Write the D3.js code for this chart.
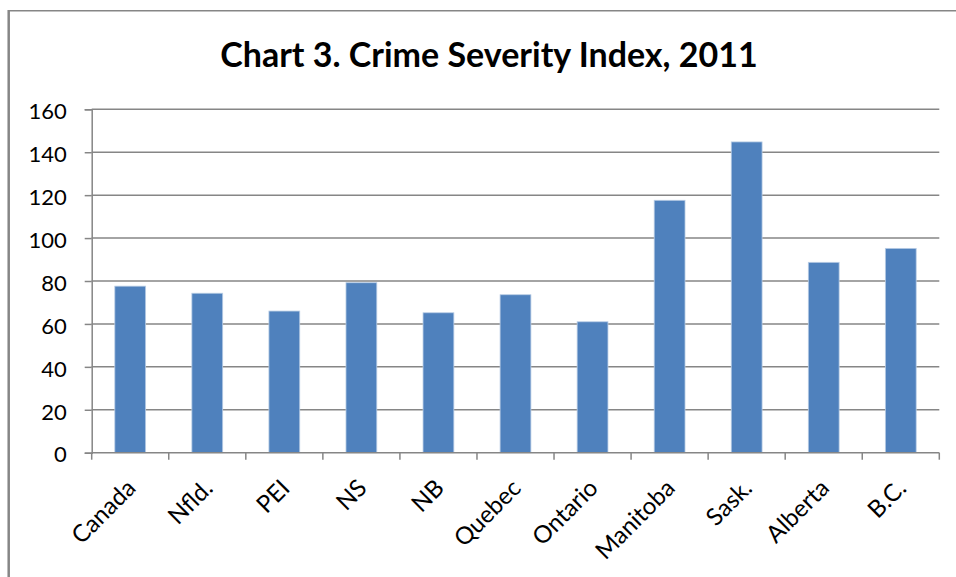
<!DOCTYPE html>
<html>
<head>
<meta charset="utf-8">
<script src="https://cdn.jsdelivr.net/npm/d3@7"></script>
<style>
  html, body { margin: 0; padding: 0; background: #fff; }
  svg { display: block; }
  text { font-family: Lato, "Open Sans", sans-serif; fill: #000; }
</style>
</head>
<body>
<svg id="chart" width="956" height="577"></svg>
<script>
// Crime Severity Index by province, 2011
const titleText = "Chart 3. Crime Severity Index, 2011";
const regions = ["Canada", "Nfld.", "PEI", "NS", "NB", "Quebec", "Ontario", "Manitoba", "Sask.", "Alberta", "B.C."];
const csiValues = [77.6, 74.3, 66.0, 79.2, 65.2, 73.6, 61.0, 117.6, 144.8, 88.7, 95.2];
const yTicks = [0, 20, 40, 60, 80, 100, 120, 140, 160];

const svg = d3.select("#chart");
const W = 956, H = 577;
const margin = { left: 91.7, right: W - 939.3, top: 109.3, bottom: H - 452.7 };

// outer chart frame (runs off the right and bottom edges)
svg.append("line")
  .attr("x1", 8.7).attr("x2", W).attr("y1", 10.7).attr("y2", 10.7)
  .attr("stroke", "#868686").attr("stroke-width", 1.4);
svg.append("line")
  .attr("x1", 8.7).attr("x2", 8.7).attr("y1", 10).attr("y2", H)
  .attr("stroke", "#868686").attr("stroke-width", 2.5);

const x = d3.scaleBand()
  .domain(regions)
  .range([margin.left, W - margin.right])
  .paddingInner(0.6).paddingOuter(0.3);

const y = d3.scaleLinear()
  .domain([0, 160])
  .range([H - margin.bottom, margin.top]);

// gridlines
svg.append("g")
  .selectAll("line")
  .data(yTicks.filter(d => d > 0))
  .join("line")
  .attr("x1", margin.left).attr("x2", W - margin.right)
  .attr("y1", d => y(d)).attr("y2", d => y(d))
  .attr("stroke", "#868686").attr("stroke-width", 1.5);

// bars
svg.append("g")
  .selectAll("rect")
  .data(regions.map((r, i) => ({ r, v: csiValues[i] })))
  .join("rect")
  .attr("x", d => x(d.r))
  .attr("width", x.bandwidth())
  .attr("y", d => y(d.v))
  .attr("height", d => y(0) - y(d.v))
  .attr("fill", "#4f81bd")
  .attr("stroke", "#b9cde5")
  .attr("stroke-width", 0.8);

// y axis
const yAxis = svg.append("g")
  .attr("transform", `translate(${margin.left},0)`)
  .call(d3.axisLeft(y).tickValues(yTicks).tickSize(7).tickPadding(18).tickFormat(d3.format("d")));
yAxis.select(".domain").attr("stroke", "#868686").attr("stroke-width", 1.5);
yAxis.selectAll(".tick line").attr("stroke", "#868686").attr("stroke-width", 1.5);
yAxis.selectAll("text")
  .attr("font-size", 22)
  .attr("dy", "0.42em")
  .attr("font-family", "Lato, 'Open Sans', sans-serif")
  .attr("fill", "#000");

// x axis: ticks sit on category boundaries
const step = x.step();
const boundaries = d3.range(regions.length + 1).map(i => margin.left + i * step);
const xg = svg.append("g");
xg.append("line")
  .attr("x1", margin.left).attr("x2", W - margin.right)
  .attr("y1", y(0)).attr("y2", y(0))
  .attr("stroke", "#868686").attr("stroke-width", 1.5);
xg.selectAll("line.tk")
  .data(boundaries)
  .join("line")
  .attr("class", "tk")
  .attr("x1", d => d).attr("x2", d => d)
  .attr("y1", y(0)).attr("y2", y(0) + 7)
  .attr("stroke", "#868686").attr("stroke-width", 1.5);

xg.selectAll("text")
  .data(regions)
  .join("text")
  .attr("transform", d => `translate(${x(d) + x.bandwidth() / 2 + 1},${y(0) + 31}) rotate(-45)`)
  .attr("text-anchor", "end")
  .attr("dy", "0.35em")
  .attr("font-size", 24)
  .text(d => d);

// title
svg.append("text")
  .attr("x", 489).attr("y", 67)
  .attr("text-anchor", "middle")
  .attr("font-size", 34)
  .attr("font-weight", "bold")
  .text(titleText);
</script>
</body>
</html>
